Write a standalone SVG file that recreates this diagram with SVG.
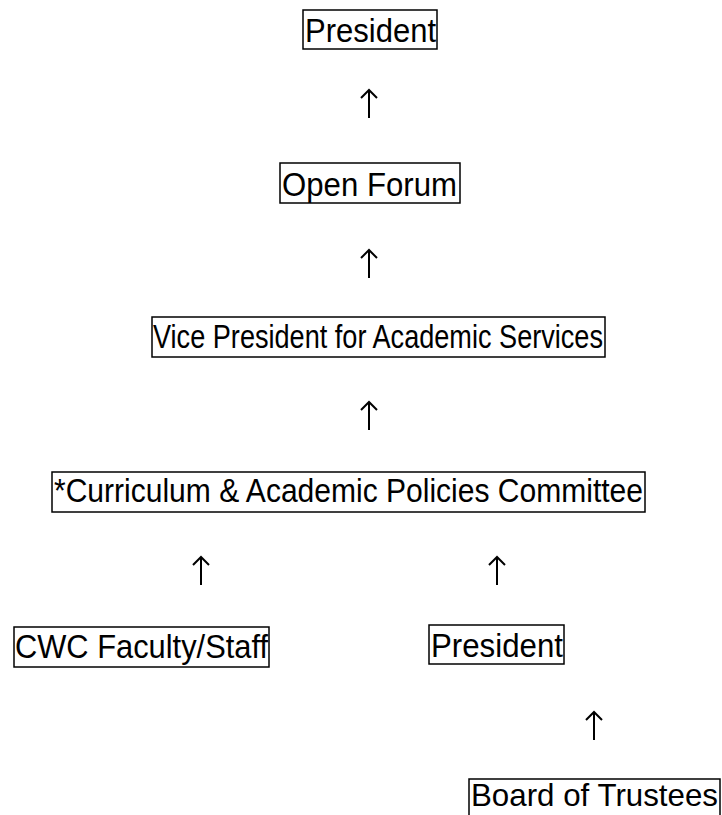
<svg xmlns="http://www.w3.org/2000/svg" width="722" height="815" viewBox="0 0 722 815">
<style>
.box{fill:#fff;stroke:#000;stroke-width:1.5}
.t{font-family:"Liberation Sans",Arial,sans-serif;font-size:33px;fill:#000}
.c{stroke:#000;stroke-width:2;fill:none}
</style>
<rect width="722" height="815" fill="#fff"/>
<g id="president-top"><rect class="box" x="303" y="10" width="134" height="39"/><text class="t" x="305" y="42" textLength="131" lengthAdjust="spacingAndGlyphs">President</text></g>
<g id="open-forum"><rect class="box" x="280" y="163" width="180" height="40"/><text class="t" x="282" y="196" textLength="175" lengthAdjust="spacingAndGlyphs">Open Forum</text></g>
<g id="vp"><rect class="box" x="152" y="317" width="453" height="40"/><text class="t" x="153" y="348" textLength="450" lengthAdjust="spacingAndGlyphs">Vice President for Academic Services</text></g>
<g id="cap"><rect class="box" x="52" y="472" width="593" height="40"/><text class="t" x="54" y="502" textLength="589" lengthAdjust="spacingAndGlyphs">*Curriculum &amp; Academic Policies Committee</text></g>
<g id="cwc"><rect class="box" x="14" y="627" width="255" height="40"/><text class="t" x="15" y="658" textLength="253" lengthAdjust="spacingAndGlyphs">CWC Faculty/Staff</text></g>
<g id="president-2"><rect class="box" x="429" y="625" width="135" height="39"/><text class="t" x="431" y="657" textLength="132" lengthAdjust="spacingAndGlyphs">President</text></g>
<g id="board"><rect class="box" x="469" y="779" width="251" height="40"/><text class="t" x="471" y="806" font-size="32" style="font-size:32px" textLength="247" lengthAdjust="spacingAndGlyphs">Board of Trustees</text></g>
<g id="connectors">
<path class="c" d="M369 118V90M361 98L369 90L377 98"/>
<path class="c" d="M369 278V250M361 258L369 250L377 258"/>
<path class="c" d="M369 430V402M361 410L369 402L377 410"/>
<path class="c" d="M201 585V557M193 565L201 557L209 565"/>
<path class="c" d="M497 585V557M489 565L497 557L505 565"/>
<path class="c" d="M594 740V712M586 720L594 712L602 720"/>
</g>
</svg>
